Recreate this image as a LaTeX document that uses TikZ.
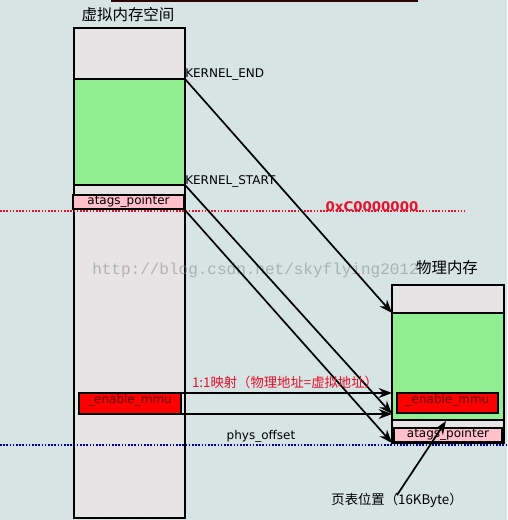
\documentclass[tikz,border=0pt]{standalone}
\usepackage{fontspec}
\setmainfont{DejaVu Sans}
\newfontfamily\cjk{Noto Sans CJK SC}
\newfontfamily\wmfont{Liberation Mono}
\usetikzlibrary{arrows.meta,fit}

\definecolor{bg}{HTML}{D6E4E4}
\definecolor{colgray}{HTML}{E6E4E4}
\definecolor{kgreen}{HTML}{90EE90}
\definecolor{kpink}{HTML}{FFC0CB}
\definecolor{mmured}{HTML}{FF0000}
\definecolor{mmutext}{HTML}{5A0000}
\definecolor{lblred}{HTML}{E8102A}
\definecolor{physblue}{HTML}{0000A0}
\definecolor{topbar}{HTML}{2A0505}

\tikzset{
  memcol/.style={draw=black, line width=1.8pt, fill=colgray, inner sep=0pt, outer sep=0pt},
  region/.style={draw=black, line width=1.8pt, inner sep=0pt, outer sep=0pt, font=\fontsize{9}{10}\selectfont},
  mapping/.style={line width=1.3pt, -{Stealth[length=10pt,width=7.5pt]}},
  addr/.style={font=\fontsize{9}{10}\selectfont, inner sep=0pt},
  title/.style={font=\cjk\fontsize{11.6}{14}\selectfont, inner sep=0pt},
  note/.style={font=\cjk\fontsize{10}{12}\selectfont, inner sep=0pt},
}

\begin{document}
\begin{tikzpicture}[x=0.75pt, y=-0.75pt]
  \fill[bg] (0,0) rectangle (507,520);
  \useasboundingbox (0,0) rectangle (507,520);

  % bar along the top edge
  \draw[topbar, line width=1.6pt] (111,0.8) -- (418,0.8);

  % virtual address space
  \node[memcol, fit={(74,28) (185,518)}] (vmem) {};
  \node[region, fill=kgreen, fit={(74,79) (185,185)}] (vkernel) {};
  \node[region, fill=kpink, fit={(73,195) (184,209)}] (vatags) {};
  \node[addr] at ([yshift=0.5pt]vatags.center) {atags\_pointer};
  \node[region, fill=mmured, fit={(79,393) (181,414)}] (venable) {};
  \node[addr, text=mmutext] at ([yshift=2pt]venable.center) {\_enable\_mmu};

  % physical memory
  \node[memcol, fit={(392,285) (504,443)}] (pmem) {};
  \node[region, fill=kgreen, fit={(392,313) (504,420)}] (pkernel) {};
  \node[region, line width=1.2pt, fill=kpink, fit={(394,428) (502,442)}] (patags) {};
  \node[addr] at ([yshift=0.5pt]patags.center) {atags\_pointer};
  \node[region, fill=mmured, fit={(397,393) (498,413)}] (penable) {};
  \node[addr, text=mmutext] at ([yshift=2pt]penable.center) {\_enable\_mmu};
  \coordinate (ptgap) at (446,421);

  % watermark
  \node[font=\wmfont\fontsize{12}{14}\selectfont, text=gray, opacity=0.5, anchor=west, inner sep=0pt]
    (wm) at (92,270) {http://blog.csdn.net/skyflying2012};

  % titles
  \node[title] (vtitle) at (128,15) {虚拟内存空间};
  \node[title] (ptitle) at (447,268) {物理内存};

  % address markers
  \draw[lblred, line width=1.5pt, dash pattern=on 1.2pt off 1.2pt] (0,211) -- (465,211);
  \node[font=\bfseries\fontsize{10}{12}\selectfont, text=lblred, inner sep=0pt] (kbase) at (372,207) {0xC0000000};
  \draw[physblue, line width=1.5pt, dash pattern=on 1.2pt off 1.2pt] (0,444.5) -- (507,444.5);
  \node[addr] (physoff) at (261,436) {phys\_offset};

  \node[addr, anchor=west] (kend) at (185,75) {KERNEL\_END};
  \node[addr, anchor=west] (kstart) at (185,181) {KERNEL\_START};

  % mappings from virtual to physical
  \draw[mapping] (vkernel.north east) -- (pkernel.north west);
  \draw[mapping] (vkernel.south east) -- (pmem.west |- venable.south);
  \draw[mapping] (vatags.south east) -- (pmem.south west);
  \draw[mapping] (venable.north east) -- (pmem.west |- venable.north);
  \draw[mapping] (venable.south east) -- (pmem.west |- venable.south);

  \node[note, text=lblred] (ident) at (285,382) {1:1映射（物理地址=虚拟地址）};

  % page table location
  \node[note] (ptable) at (397,500) {页表位置（16KByte）};
  \draw[mapping] ([yshift=-2pt]ptable.north) -- (ptgap);
\end{tikzpicture}
\end{document}
